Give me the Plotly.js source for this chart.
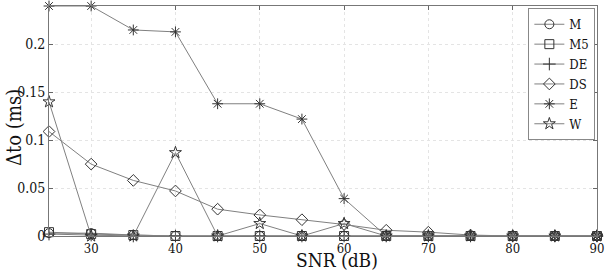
<!DOCTYPE html>
<html>
<head>
<meta charset="utf-8">
<script src="https://cdn.plot.ly/plotly-3.0.1.min.js"></script>
<style>html,body{margin:0;padding:0;background:#fff;}#chart{width:608px;height:272px;}</style>
</head>
<body>
<div id="chart"></div>
<script>
const snr = [25, 30, 35, 40, 45, 50, 55, 60, 65, 70, 75, 80, 85, 90];
const seriesNames = ["M", "M5", "DE", "DS", "E", "W"];
const M  = [0.003, 0.003, 0.001, 0, 0, 0, 0, 0, 0, 0, 0, 0, 0, 0];
const M5 = [0.004, 0.002, 0.001, 0, 0, 0, 0, 0, 0, 0, 0, 0, 0, 0];
const DE = [0.002, 0.001, 0, 0, 0, 0, 0, 0, 0, 0, 0, 0, 0, 0];
const DS = [0.109, 0.075, 0.058, 0.047, 0.028, 0.022, 0.017, 0.012, 0.006, 0.004, 0.001, 0, 0, 0];
const E  = [0.24, 0.24, 0.215, 0.213, 0.138, 0.138, 0.122, 0.039, 0, 0, 0, 0, 0, 0];
const W  = [0.14, 0, 0, 0.087, 0, 0.013, 0, 0.013, 0, 0, 0, 0, 0, 0];
const xTicks = [30, 40, 50, 60, 70, 80, 90];
const yTicks = [0, 0.05, 0.1, 0.15, 0.2];
const yTickText = ["0", "0.05", "0.1", "0.15", "0.2"];
const xTitle = "SNR (dB)";
const yTitle = "Δto (ms)";

const symbols = ["circle-open", "square-open", "cross-thin-open", "diamond-open", "asterisk-open", "star-open"];
const values = [M, M5, DE, DS, E, W];
const traces = values.map((v, i) => ({
  x: snr, y: v, name: seriesNames[i], type: "scatter", mode: "lines+markers",
  cliponaxis: false,
  line: {color: "#808080", width: 1},
  marker: {symbol: symbols[i], size: 9, color: "#333333", line: {color: "#333333", width: 1}}
}));

const FAM = "DejaVu Serif Condensed, DejaVu Serif";
const f = (s) => ({family: FAM, size: s, color: "#111"});
const layout = {
  width: 608, height: 272,
  margin: {l: 49, r: 11, t: 6, b: 36},
  paper_bgcolor: "#fff", plot_bgcolor: "#fff",
  font: f(13),
  showlegend: true,
  legend: {x: 0.997, y: 0.99, xanchor: "right", yanchor: "top", bgcolor: "#fff",
           bordercolor: "#888", borderwidth: 1, font: f(13),
           tracegroupgap: 0, itemwidth: 30},
  xaxis: {range: [25, 90], tickvals: xTicks, ticks: "inside", ticklen: 4, tickcolor: "#666",
          showgrid: true, gridcolor: "#e4e4e4", griddash: "dot", zeroline: false,
          showline: true, linecolor: "#777", linewidth: 1, mirror: "ticks",
          tickfont: f(13)},
  yaxis: {range: [0, 0.24], tickvals: yTicks, ticktext: yTickText, ticks: "inside", ticklen: 4, tickcolor: "#666",
          showgrid: true, gridcolor: "#e4e4e4", griddash: "dot", zeroline: false,
          showline: true, linecolor: "#777", linewidth: 1, mirror: "ticks",
          tickfont: f(14)},
  annotations: [
    {text: xTitle, xref: "paper", yref: "paper", x: 0.525, y: 0, yshift: -36, xanchor: "center", yanchor: "bottom",
     borderpad: 0, showarrow: false, font: f(19)},
    {text: yTitle, xref: "paper", yref: "paper", x: 0, xshift: -35, y: 0.47, xanchor: "center", yanchor: "middle",
     textangle: -90, showarrow: false, font: f(20)}
  ]
};
Plotly.newPlot("chart", traces, layout, {staticPlot: true, displayModeBar: false});
</script>
</body>
</html>
